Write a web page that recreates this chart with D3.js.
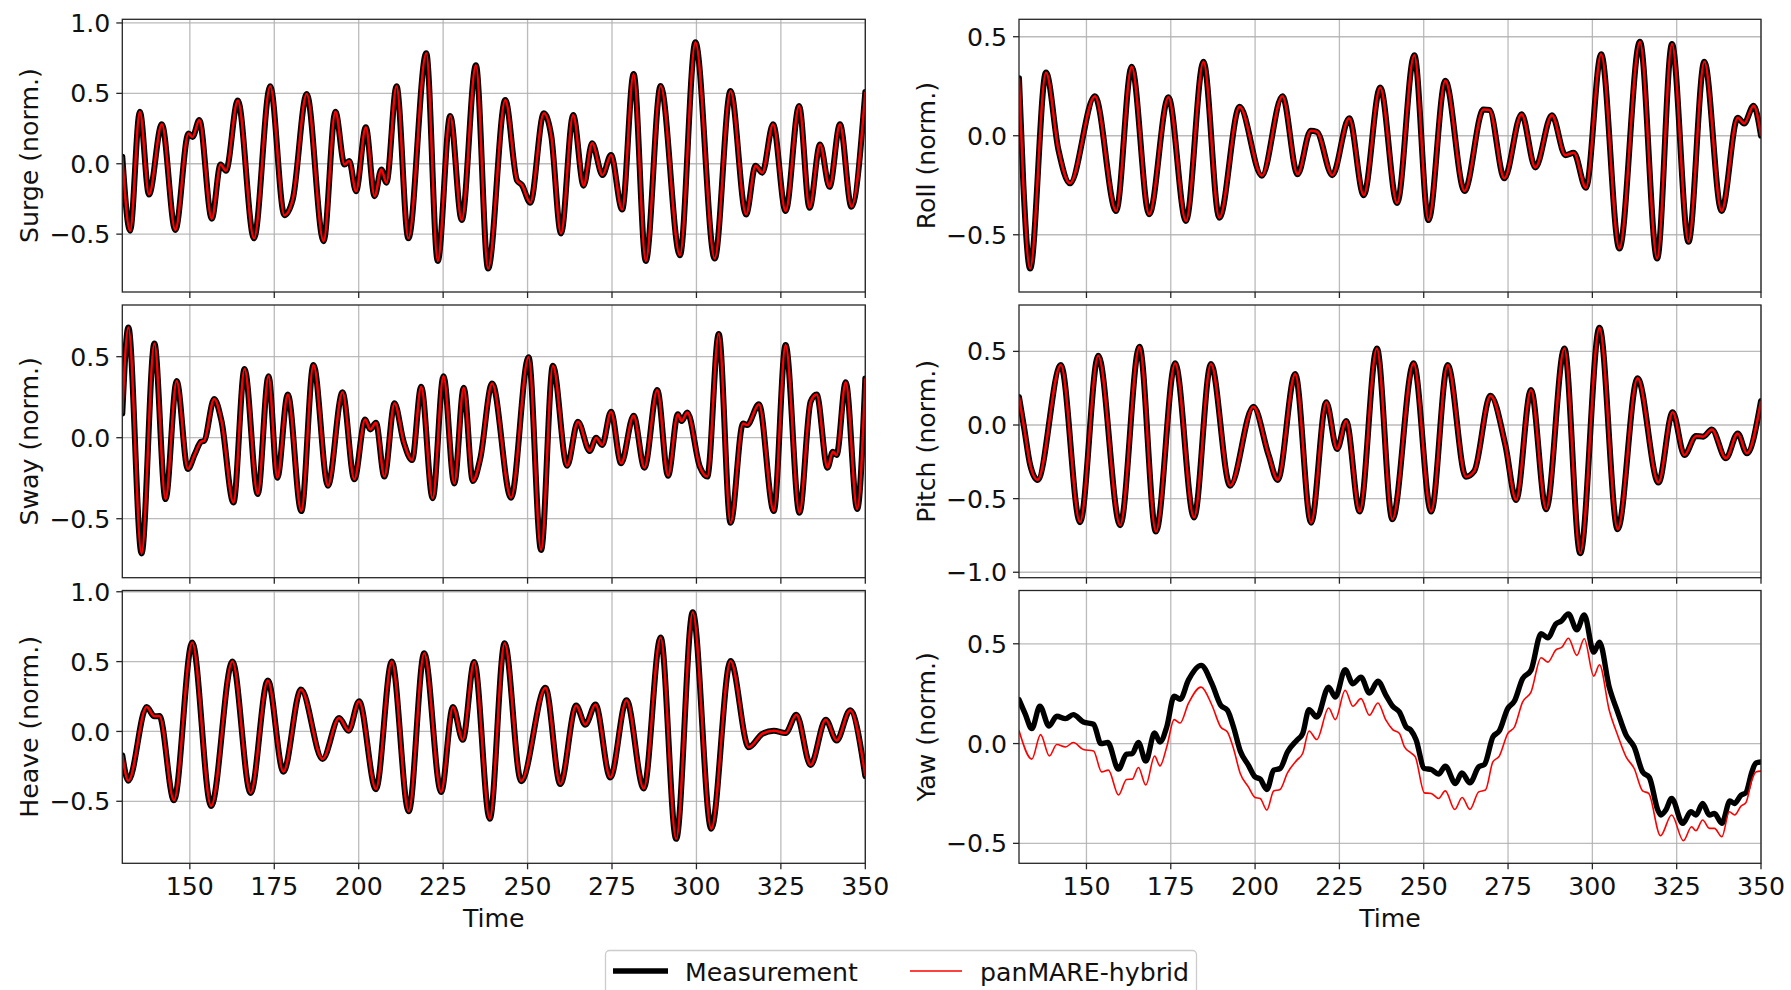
<!DOCTYPE html>
<html><head><meta charset="utf-8">
<script src="https://cdn.jsdelivr.net/npm/d3@7"></script>
<style>body{margin:0;background:#fff}svg{display:block}text{font-family:"DejaVu Sans",sans-serif}</style>
</head><body><svg id="c" width="1791" height="990"></svg>
<script>
// ---- data (time, normalised value) ----
const timeTicks = [150,175,200,225,250,275,300,325,350];
const seriesNames = ["Measurement","panMARE-hybrid"];

const surge = [[130,0.05],[132.3,-0.476],[135.2,0.37],[137.9,-0.218],[141.7,0.28],[145.7,-0.47],[149.6,0.215],[150.8,0.19],[152.8,0.31],[156.5,-0.39],[159.1,-0.005],[160.7,-0.05],[164.2,0.45],[169.0,-0.53],[173.8,0.55],[178.0,-0.365],[180.5,-0.25],[184.6,0.495],[189.6,-0.55],[193.1,0.37],[195.8,-0.005],[197.2,0.02],[199.2,-0.195],[202.1,0.26],[204.7,-0.23],[206.7,-0.04],[208.2,-0.135],[211.2,0.55],[214.7,-0.53],[220.0,0.785],[223.4,-0.69],[227.1,0.34],[230.5,-0.40],[234.7,0.70],[238.3,-0.744],[243.4,0.453],[246.9,-0.12],[248.3,-0.15],[250.8,-0.277],[254.8,0.358],[257.0,0.2],[259.9,-0.495],[263.5,0.346],[266.6,-0.156],[269.1,0.145],[272.2,-0.08],[274.7,0.062],[278.0,-0.325],[281.4,0.637],[285.0,-0.69],[289.4,0.552],[295.1,-0.65],[299.7,0.863],[305.4,-0.673],[310.1,0.517],[314.7,-0.36],[317.5,-0.014],[319.5,-0.064],[322.7,0.28],[326.4,-0.336],[330.4,0.41],[333.5,-0.313],[336.6,0.137],[339.4,-0.164],[342.5,0.28],[345.9,-0.306],[350,0.51]];
const surgeHybrid = surge;

const sway = [[130,0.15],[131.8,0.68],[135.7,-0.714],[139.5,0.582],[142.8,-0.379],[146.1,0.35],[149.4,-0.193],[151.5,-0.10],[153.3,-0.025],[154.2,-0.02],[157.2,0.239],[159.4,0.1],[162.9,-0.40],[166.2,0.424],[170.1,-0.348],[173.3,0.38],[175.9,-0.247],[179.0,0.267],[183.0,-0.453],[186.6,0.449],[190.9,-0.296],[195.2,0.28],[198.7,-0.257],[201.9,0.113],[203.4,0.051],[205.1,0.093],[207.6,-0.24],[210.6,0.212],[213.3,-0.025],[215.8,-0.138],[218.5,0.315],[221.9,-0.374],[225.1,0.38],[228.3,-0.282],[231.1,0.309],[233.8,-0.267],[236.0,-0.128],[239.5,0.335],[245.1,-0.37],[250.3,0.496],[254.0,-0.693],[257.5,0.444],[261.7,-0.173],[264.9,0.099],[268.4,-0.082],[270.3,0.0],[272.1,-0.045],[274.7,0.16],[277.7,-0.158],[281.4,0.136],[284.6,-0.185],[288.4,0.294],[291.6,-0.235],[294.5,0.144],[295.6,0.103],[297.3,0.156],[301.0,-0.179],[303.2,-0.24],[306.6,0.64],[310.1,-0.525],[313.8,0.088],[315.0,0.078],[318.5,0.206],[322.9,-0.453],[326.4,0.572],[330.5,-0.463],[333.8,0.222],[335.6,0.267],[338.8,-0.185],[340.4,-0.086],[341.5,-0.107],[344.2,0.342],[347.6,-0.44],[350,0.366]];
const swayHybrid = sway;

const heave = [[130,-0.17],[131.8,-0.353],[137.2,0.175],[139.5,0.108],[141.0,0.11],[145.3,-0.493],[150.7,0.637],[156.3,-0.534],[162.6,0.5],[168.0,-0.44],[173.1,0.365],[177.7,-0.288],[182.9,0.30],[189.3,-0.197],[194.2,0.096],[197.0,0.005],[200.1,0.216],[205.1,-0.413],[209.8,0.5],[214.8,-0.572],[219.4,0.56],[224.4,-0.433],[227.9,0.175],[230.8,-0.06],[234.2,0.498],[238.8,-0.625],[243.2,0.632],[248.1,-0.356],[255.3,0.3125],[259.7,-0.377],[264.4,0.185],[267.1,0.048],[270.1,0.192],[274.5,-0.33],[279.3,0.224],[284.4,-0.409],[289.4,0.673],[294.0,-0.769],[298.9,0.853],[304.4,-0.697],[310.1,0.505],[315.5,-0.113],[319.5,-0.017],[322.9,0.005],[326.4,-0.012],[329.6,0.12],[333.8,-0.24],[338.3,0.084],[341.5,-0.065],[345.5,0.151],[350,-0.32]];
const heaveHybrid = heave;

const roll = [[130,0.29],[131.3,-0.25],[133.3,-0.67],[138.0,0.32],[141.7,-0.072],[145.1,-0.24],[152.5,0.20],[158.8,-0.38],[163.4,0.348],[168.6,-0.397],[174.3,0.194],[179.5,-0.43],[184.7,0.374],[189.4,-0.414],[195.4,0.146],[202.0,-0.202],[208.1,0.20],[212.6,-0.194],[216.5,0.025],[218.3,0.02],[222.9,-0.199],[227.9,0.088],[232.2,-0.30],[237.1,0.244],[242.1,-0.34],[247.2,0.407],[251.4,-0.426],[256.4,0.278],[262.1,-0.279],[267.7,0.133],[269.5,0.13],[273.9,-0.215],[279.0,0.109],[283.1,-0.16],[288.0,0.104],[292.0,-0.098],[294.5,-0.086],[298.1,-0.263],[302.6,0.411],[308.0,-0.569],[314.1,0.475],[319.2,-0.62],[323.6,0.463],[328.5,-0.535],[333.2,0.374],[338.3,-0.38],[343.1,0.091],[345.0,0.062],[347.8,0.152],[350,0.0]];
const rollHybrid = roll;

const pitch = [[130,0.19],[131.6,-0.03],[133.3,-0.27],[135.5,-0.373],[142.4,0.407],[148.1,-0.66],[153.5,0.47],[160.0,-0.68],[165.7,0.532],[170.6,-0.724],[176.3,0.419],[181.9,-0.629],[186.9,0.414],[192.6,-0.412],[199.5,0.124],[204.0,-0.204],[206.7,-0.373],[211.9,0.346],[216.6,-0.663],[221.1,0.154],[224.3,-0.163],[227.0,0.027],[231.0,-0.588],[236.1,0.52],[240.7,-0.64],[247.0,0.419],[252.2,-0.588],[257.1,0.407],[262.5,-0.351],[265.0,-0.312],[269.8,0.199],[274.2,-0.136],[277.4,-0.509],[281.8,0.238],[286.3,-0.572],[291.7,0.52],[296.4,-0.871],[302.1,0.661],[307.5,-0.708],[313.4,0.317],[319.6,-0.391],[323.8,0.086],[327.3,-0.204],[330.7,-0.075],[332.9,-0.079],[335.4,-0.03],[339.6,-0.226],[343.1,-0.057],[345.8,-0.192],[350,0.163]];
const pitchHybrid = pitch;

const yaw = [[130,0.22],[131.8,0.15],[133.8,0.075],[136.2,0.187],[138.9,0.088],[141.2,0.137],[143.8,0.125],[146.1,0.145],[149.1,0.108],[152.1,0.097],[154.3,0.0],[156.3,0.005],[159.5,-0.128],[161.9,-0.053],[163.6,-0.05],[165.4,0.005],[167.6,-0.088],[170.2,0.053],[171.8,0.008],[173.8,0.083],[176.0,0.237],[177.8,0.222],[180.2,0.317],[184.0,0.392],[187.2,0.30],[189.8,0.192],[191.8,0.167],[193.6,0.083],[195.6,-0.037],[198.0,-0.108],[200.0,-0.167],[201.5,-0.178],[203.5,-0.23],[205.5,-0.133],[207.4,-0.125],[209.6,-0.042],[212.4,0.017],[214.1,0.05],[216.0,0.17],[218.3,0.133],[221.8,0.283],[223.8,0.233],[226.7,0.37],[229.0,0.30],[231.4,0.333],[233.9,0.253],[236.4,0.313],[238.8,0.242],[240.8,0.187],[242.8,0.158],[244.8,0.083],[246.2,0.067],[247.7,0.02],[250.2,-0.125],[252.2,-0.13],[254.4,-0.153],[256.4,-0.113],[259.4,-0.2],[261.3,-0.147],[263.7,-0.197],[266.3,-0.117],[268.0,-0.105],[270.5,0.033],[272.4,0.063],[274.9,0.175],[276.9,0.213],[279.3,0.325],[281.8,0.367],[284.8,0.55],[286.8,0.53],[289.2,0.6],[290.7,0.613],[292.9,0.65],[295.4,0.57],[297.6,0.645],[300.4,0.458],[302.1,0.508],[305.0,0.283],[307.5,0.158],[310.0,0.042],[312.4,-0.017],[314.9,-0.142],[316.9,-0.17],[319.4,-0.333],[320.3,-0.358],[321.8,-0.333],[323.5,-0.275],[326.8,-0.40],[329.2,-0.342],[330.7,-0.358],[332.7,-0.30],[334.7,-0.358],[336.2,-0.35],[338.4,-0.40],[340.8,-0.288],[342.1,-0.30],[344.1,-0.258],[345.5,-0.247],[347.3,-0.142],[348.5,-0.097],[350,-0.092]];
const yawHybrid = [[130,0.065],[133.8,-0.078],[136.4,0.045],[139.0,-0.062],[141.2,-0.005],[143.8,-0.017],[146.1,0.005],[149.1,-0.03],[152.1,-0.037],[154.5,-0.142],[156.5,-0.133],[159.5,-0.258],[161.9,-0.18],[163.6,-0.178],[165.4,-0.12],[167.6,-0.208],[170.2,-0.063],[171.8,-0.112],[173.8,-0.017],[176.0,0.12],[177.8,0.103],[180.2,0.2],[184.0,0.283],[187.2,0.192],[189.8,0.083],[191.8,0.058],[193.6,-0.025],[195.6,-0.15],[198.0,-0.217],[200.0,-0.27],[201.5,-0.275],[203.5,-0.333],[205.5,-0.238],[207.4,-0.23],[209.6,-0.147],[212.4,-0.083],[214.1,-0.05],[216.0,0.063],[218.3,0.02],[221.8,0.178],[223.8,0.12],[226.7,0.267],[229.0,0.187],[231.4,0.225],[233.9,0.142],[236.4,0.203],[238.8,0.117],[240.8,0.07],[242.8,0.05],[244.3,-0.017],[246.2,-0.047],[247.5,-0.067],[250.2,-0.247],[252.2,-0.25],[254.4,-0.275],[256.4,-0.237],[259.2,-0.33],[261.4,-0.27],[263.7,-0.33],[266.3,-0.242],[268.3,-0.233],[270.5,-0.092],[272.4,-0.063],[274.9,0.05],[276.9,0.083],[279.3,0.208],[281.8,0.258],[284.8,0.43],[286.8,0.408],[289.2,0.47],[291.0,0.483],[292.9,0.528],[295.4,0.442],[297.6,0.525],[300.4,0.338],[302.1,0.395],[305.0,0.167],[307.5,0.042],[310.0,-0.067],[312.4,-0.125],[314.9,-0.237],[316.7,-0.25],[320.2,-0.462],[323.5,-0.358],[327.0,-0.487],[329.4,-0.417],[330.7,-0.437],[332.7,-0.383],[334.7,-0.425],[336.2,-0.425],[338.4,-0.467],[340.6,-0.342],[342.2,-0.358],[344.1,-0.313],[345.5,-0.297],[347.3,-0.183],[348.5,-0.142],[350,-0.138]];

const surgeTicks = [-0.5,0,0.5,1.0];
const swayTicks = [-0.5,0,0.5];
const heaveTicks = [-0.5,0,0.5,1.0];
const rollTicks = [-0.5,0,0.5];
const pitchTicks = [-1.0,-0.5,0,0.5];
const yawTicks = [-0.5,0,0.5];

// ---- layout ----
const svg = d3.select("#c");
const cols = [[122.3,865.3],[1019,1761]];
const rows = [[19.3,292],[305,577.7],[590.5,863.3]];
const panels = [
  {label:"Surge (norm.)", col:0,row:0, dom:[-0.911,1.026], ticks:surgeTicks, meas:surge, hyb:surgeHybrid},
  {label:"Sway (norm.)",  col:0,row:1, dom:[-0.864,0.819], ticks:swayTicks,  meas:sway,  hyb:swayHybrid},
  {label:"Heave (norm.)", col:0,row:2, dom:[-0.944,1.009], ticks:heaveTicks, meas:heave, hyb:heaveHybrid},
  {label:"Roll (norm.)",  col:1,row:0, dom:[-0.789,0.588], ticks:rollTicks,  meas:roll,  hyb:rollHybrid},
  {label:"Pitch (norm.)", col:1,row:1, dom:[-1.037,0.815], ticks:pitchTicks, meas:pitch, hyb:pitchHybrid},
  {label:"Yaw (norm.)",   col:1,row:2, dom:[-0.60,0.767],  ticks:yawTicks,   meas:yaw,   hyb:yawHybrid}
];
const fmt = v => d3.format(".1f")(v).replace("-","\u2212");
const FS = 25.2;

panels.forEach((p,i)=>{
  const [x0,x1] = cols[p.col], [y0,y1] = rows[p.row];
  const isYaw = p.row===2 && p.col===1;
  const x = d3.scaleLinear().domain([130,350]).range([x0,x1]);
  const y = d3.scaleLinear().domain(p.dom).range([y1,y0]);
  const g = svg.append("g");
  svg.append("defs").append("clipPath").attr("id","cp"+i)
    .append("rect").attr("x",x0).attr("y",y0).attr("width",x1-x0).attr("height",y1-y0);
  // grid
  g.selectAll(".gx").data(timeTicks).join("line")
    .attr("x1",d=>x(d)).attr("x2",d=>x(d)).attr("y1",y0).attr("y2",y1)
    .attr("stroke","#b0b0b0").attr("stroke-width",1.3).attr("opacity",0.85);
  g.selectAll(".gy").data(p.ticks).join("line")
    .attr("x1",x0).attr("x2",x1).attr("y1",d=>y(d)).attr("y2",d=>y(d))
    .attr("stroke","#b0b0b0").attr("stroke-width",1.3).attr("opacity",0.85);
  // lines
  const line = d3.line().x(d=>x(d[0])).y(d=>y(d[1])).curve(d3.curveMonotoneX);
  const lg = g.append("g").attr("clip-path",`url(#cp${i})`);
  lg.append("path").datum(p.meas).attr("d",line).attr("fill","none")
    .attr("stroke","#000").attr("stroke-width",isYaw?5.4:6).attr("stroke-linejoin","round").attr("stroke-linecap","round");
  lg.append("path").datum(p.hyb).attr("d",line).attr("fill","none")
    .attr("stroke","#ff0000").attr("stroke-width",isYaw?1.6:2.5).attr("stroke-linejoin","round");
  // spines
  g.append("rect").attr("x",x0).attr("y",y0).attr("width",x1-x0).attr("height",y1-y0)
    .attr("fill","none").attr("stroke","#262626").attr("stroke-width",1.3);
  // x ticks
  g.selectAll(".tx").data(timeTicks).join("line")
    .attr("x1",d=>x(d)).attr("x2",d=>x(d)).attr("y1",y1).attr("y2",y1+6)
    .attr("stroke","#262626").attr("stroke-width",1.3);
  if (p.row===2){
    g.selectAll(".tl").data(timeTicks).join("text")
      .attr("x",d=>x(d)).attr("y",877).attr("dy","0.72em").attr("text-anchor","middle")
      .attr("font-size",FS).attr("fill","#111").text(d=>d);
    g.append("text").attr("x",(x0+x1)/2).attr("y",927).attr("text-anchor","middle")
      .attr("font-size",FS).attr("fill","#111").text("Time");
  }
  // y ticks
  g.selectAll(".ty").data(p.ticks).join("line")
    .attr("x1",x0-6).attr("x2",x0).attr("y1",d=>y(d)).attr("y2",d=>y(d))
    .attr("stroke","#262626").attr("stroke-width",1.3);
  g.selectAll(".tyl").data(p.ticks).join("text")
    .attr("x",x0-12).attr("y",d=>y(d)).attr("dy","0.36em").attr("text-anchor","end")
    .attr("font-size",FS).attr("fill","#111").text(fmt);
  const lx = p.col===0 ? 29 : 926;
  g.append("text").attr("transform",`translate(${lx},${(y0+y1)/2}) rotate(-90)`)
    .attr("dy","0.36em").attr("text-anchor","middle").attr("font-size",FS).attr("fill","#111").text(p.label);
});

// legend
const leg = svg.append("g");
leg.append("rect").attr("x",605.5).attr("y",950.5).attr("width",591).attr("height",52).attr("rx",4)
  .attr("fill","#fff").attr("stroke","#cccccc").attr("stroke-width",1.3);
const legX = [[613,668,685],[910,962,980]];
seriesNames.forEach((n,k)=>{
  leg.append("line").attr("x1",legX[k][0]).attr("x2",legX[k][1]).attr("y1",971).attr("y2",971)
    .attr("stroke",k===0?"#000":"#ff0000").attr("stroke-width",k===0?5.4:1.6);
  leg.append("text").attr("x",legX[k][2]).attr("y",972).attr("dy","0.36em")
    .attr("font-size",FS).attr("fill","#111").text(n);
});
</script></body></html>
